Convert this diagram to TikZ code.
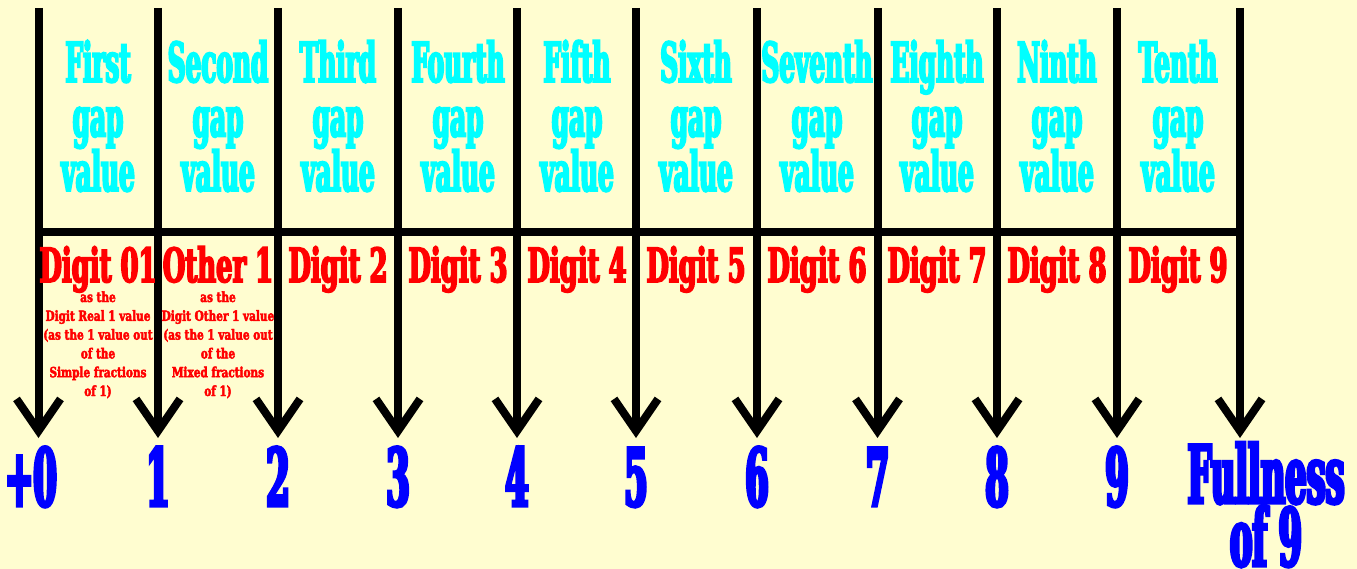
\documentclass[tikz,border=0pt]{standalone}
\usepackage{fontspec}
\usetikzlibrary{arrows.meta}
\newfontfamily\hfont{DejaVu Serif}[FakeStretch=0.45,FakeBold=3.5]
\newfontfamily\dfont{DejaVu Serif}[FakeStretch=0.55,FakeBold=3.5]
\newfontfamily\sfont{DejaVu Serif}[FakeStretch=0.75,FakeBold=3]
\newfontfamily\nfont{DejaVu Serif}[FakeStretch=0.42,FakeBold=4]
\definecolor{bgc}{RGB}{255,253,208}
\definecolor{cy}{RGB}{0,255,255}
\definecolor{rd}{RGB}{255,0,0}
\definecolor{bl}{RGB}{0,0,255}
\tikzset{
  hdr/.style={anchor=base,inner sep=0pt,align=center,text=cy,font=\hfont\bfseries\fontsize{55}{54.5}\selectfont},
  dlab/.style={anchor=base,inner sep=0pt,text=rd,font=\dfont\bfseries\fontsize{47}{47}\selectfont},
  small/.style={anchor=base,inner sep=0pt,align=center,text=rd,font=\sfont\bfseries\fontsize{14}{18.8}\selectfont},
  num/.style={anchor=base,inner sep=0pt,align=center,text=bl,font=\nfont\bfseries\fontsize{80}{60}\selectfont},
  gridline/.style={line width=8pt,black},
  arr/.style={line width=8pt,black,-{Straight Barb[sharp,length=32pt,width=44pt]}}
}
\begin{document}
\begin{tikzpicture}[x=1pt,y=-1pt]
\fill[bgc] (0,0) rectangle (1357,569);
\useasboundingbox (0,0) rectangle (1357,569);
% column line coordinates
\foreach \i/\x in {0/38.5,1/158,2/278,3/398,4/517,5/636,6/757,7/877.5,8/997,9/1117,10/1240}{
  \coordinate (t\i) at (\x,8);
  \coordinate (m\i) at (\x,232.5);
  \coordinate (h\i) at (\x,438);
}
\draw[gridline] (m0) -- (m10);
\foreach \i in {0,...,10}{\draw[arr] (t\i) -- (h\i);}
% headers (base = baseline of last line)
\node[hdr] (g1) at (98,191) {First\\gap\\value};
\node[hdr] (g2) at (218,191) {Second\\gap\\value};
\node[hdr] (g3) at (338,191) {Third\\gap\\value};
\node[hdr] (g4) at (458,191) {Fourth\\gap\\value};
\node[hdr] (g5) at (577,191) {Fifth\\gap\\value};
\node[hdr] (g6) at (696,191) {Sixth\\gap\\value};
\node[hdr] (g7) at (817,191) {Seventh\\gap\\value};
\node[hdr] (g8) at (937,191) {Eighth\\gap\\value};
\node[hdr] (g9) at (1057,191) {Ninth\\gap\\value};
\node[hdr] (g10) at (1178,191) {Tenth\\gap\\value};
% digit labels
\node[dlab] (d1) at (98,282) {Digit 01};
\node[dlab] (d2) at (218,282) {Other 1};
\node[dlab] (d3) at (338,282) {Digit 2};
\node[dlab] (d4) at (458,282) {Digit 3};
\node[dlab] (d5) at (577,282) {Digit 4};
\node[dlab] (d6) at (696,282) {Digit 5};
\node[dlab] (d7) at (817,282) {Digit 6};
\node[dlab] (d8) at (937,282) {Digit 7};
\node[dlab] (d9) at (1057,282) {Digit 8};
\node[dlab] (d10) at (1178,282) {Digit 9};
% small notes
\node[small] (s1) at (98,396) {as the\\Digit Real 1 value\\(as the 1 value out\\of the\\Simple fractions\\of 1)};
\node[small] (s2) at (218,396) {as the\\Digit Other 1 value\\(as the 1 value out\\of the\\Mixed fractions\\of 1)};
% numbers
\node[num] (n0) at (31,506) {+0};
\node[num] (n1) at (158,506) {1};
\node[num] (n2) at (278,506) {2};
\node[num] (n3) at (398,506) {3};
\node[num] (n4) at (517,506) {4};
\node[num] (n5) at (636,506) {5};
\node[num] (n6) at (757,506) {6};
\node[num] (n7) at (877.5,506) {7};
\node[num] (n8) at (997,506) {8};
\node[num] (n9) at (1117,506) {9};
\node[num] (n10) at (1266,566) {Fullness\\of 9};
\end{tikzpicture}
\end{document}
